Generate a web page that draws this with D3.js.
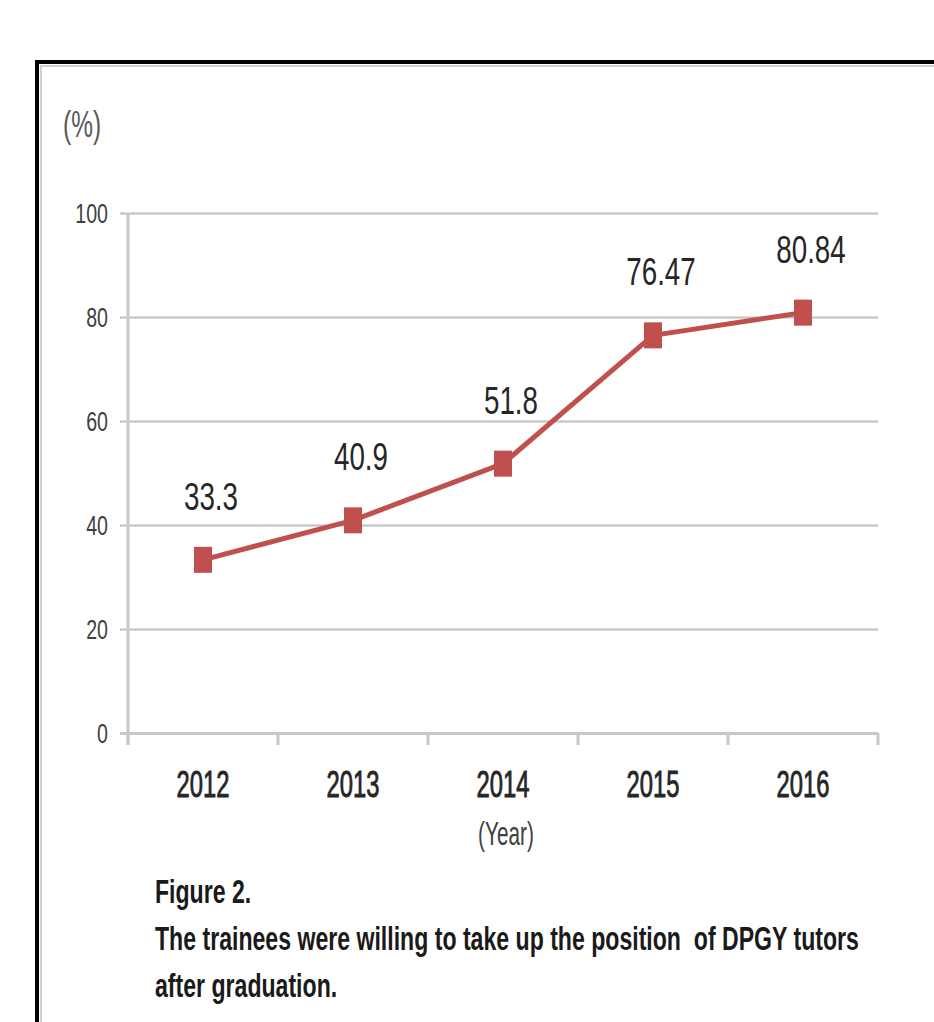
<!DOCTYPE html>
<html>
<head>
<meta charset="utf-8">
<script src="https://cdn.jsdelivr.net/npm/d3@7"></script>
<style>
  body { margin: 0; background: #fff; }
  svg text { font-family: "Liberation Sans", Arial, sans-serif; }
</style>
</head>
<body>
<div id="chart"></div>
<script>
// data
var years = ["2012", "2013", "2014", "2015", "2016"];
var willing = [33.3, 40.9, 51.8, 76.47, 80.84];
var valueLabels = ["33.3", "40.9", "51.8", "76.47", "80.84"];
var yTicks = [0, 20, 40, 60, 80, 100];
var captionLines = ["Figure 2.",
                    "The trainees were willing to take up the position  of DPGY tutors",
                    "after graduation."];

var lineColour = "#C0504D";

var svg = d3.select("#chart")
    .append("svg")
    .attr("width", 934)
    .attr("height", 1022);

// frame round the figure (runs off the right and bottom edges)
svg.append("rect")
    .attr("x", 41).attr("y", 66)
    .attr("width", 1000).attr("height", 1000)
    .style("fill", "none")
    .style("stroke", "#d0d0d0")
    .style("stroke-width", 2);
svg.append("rect")
    .attr("x", 37).attr("y", 62)
    .attr("width", 1000).attr("height", 1000)
    .style("fill", "none")
    .style("stroke", "#000")
    .style("stroke-width", 4);

var x = d3.scaleBand()
    .domain(years)
    .range([128, 878]);

var y = d3.scaleLinear()
    .domain([0, 100])
    .range([733, 213]);

// squeeze text sideways, the figure's lettering is narrow
function squeeze(sel, sx) {
  sel.attr("transform", function() {
    var t = d3.select(this);
    return "translate(" + t.attr("data-x") + "," + t.attr("data-y") + ") scale(" + sx + ",1)";
  });
}

// gridlines + y labels
var yAxis = svg.append("g")
    .attr("transform", "translate(120,0)")
    .call(d3.axisLeft(y).tickValues(yTicks).tickSize(-758).tickPadding(12));

yAxis.select(".domain").remove();
yAxis.selectAll(".tick line")
    .style("stroke", function(d) { return d === 0 ? "#c8c8c8" : "#bfbfbf"; })
    .style("stroke-width", function(d) { return d === 0 ? 3 : 2; });
yAxis.selectAll(".tick text")
    .attr("x", 0)
    .attr("dy", "0.35em")
    .attr("data-x", -12)
    .attr("data-y", 0)
    .style("font-size", "28px")
    .style("fill", "#404040")
    .call(squeeze, 0.7);

// vertical axis line
svg.append("line")
    .attr("x1", x.range()[0]).attr("x2", x.range()[0])
    .attr("y1", y(100)).attr("y2", y(0) + 12)
    .style("stroke", "#c8c8c8")
    .style("stroke-width", 3);

// category tick marks between the years
var bounds = years.map(function(d) { return x(d); }).concat([x.range()[1]]);
svg.append("g")
    .selectAll("line")
    .data(bounds)
    .enter()
    .append("line")
    .attr("x1", function(d) { return d; })
    .attr("x2", function(d) { return d; })
    .attr("y1", y(0))
    .attr("y2", y(0) + 12)
    .style("stroke", "#c8c8c8")
    .style("stroke-width", 3);

// year labels
svg.append("g")
    .selectAll("text")
    .data(years)
    .enter()
    .append("text")
    .text(function(d) { return d; })
    .attr("data-x", function(d) { return x(d) + x.bandwidth() / 2; })
    .attr("data-y", 797)
    .attr("text-anchor", "middle")
    .style("font-size", "36px")
    .style("fill", "#262626")
    .style("stroke", "#262626")
    .style("stroke-width", 0.9)
    .call(squeeze, 0.66);

// axis titles
svg.append("text")
    .text("(Year)")
    .attr("data-x", x("2014") + x.bandwidth() / 2 + 3)
    .attr("data-y", 845)
    .attr("text-anchor", "middle")
    .style("font-size", "33px")
    .style("fill", "#404040")
    .call(squeeze, 0.63);

svg.append("text")
    .text("(%)")
    .attr("data-x", 63)
    .attr("data-y", 137)
    .style("font-size", "36px")
    .style("fill", "#595959")
    .call(squeeze, 0.68);

// the series line
var pts = years.map(function(d, i) { return {year: d, value: willing[i], label: valueLabels[i]}; });

var line = d3.line()
    .x(function(d) { return x(d.year) + x.bandwidth() / 2; })
    .y(function(d) { return y(d.value); });

svg.append("path")
    .datum(pts)
    .attr("d", line)
    .style("fill", "none")
    .style("stroke", lineColour)
    .style("stroke-width", 5)
    .style("stroke-linejoin", "round");

// square markers (stretched taller, like the figure)
svg.append("g")
    .selectAll("rect")
    .data(pts)
    .enter()
    .append("rect")
    .attr("x", function(d) { return x(d.year) + x.bandwidth() / 2 - 9; })
    .attr("y", function(d) { return y(d.value) - 13; })
    .attr("width", 18)
    .attr("height", 26)
    .style("fill", lineColour);

// value labels above points
svg.append("g")
    .selectAll("text")
    .data(pts)
    .enter()
    .append("text")
    .text(function(d) { return d.label; })
    .attr("data-x", function(d) { return x(d.year) + x.bandwidth() / 2 + 8; })
    .attr("data-y", function(d) { return y(d.value) - 50; })
    .attr("text-anchor", "middle")
    .style("font-size", "38px")
    .style("fill", "#262626")
    .call(squeeze, 0.73);

// caption
svg.append("g")
    .selectAll("text")
    .data(captionLines)
    .enter()
    .append("text")
    .text(function(d) { return d; })
    .attr("data-x", 155)
    .attr("data-y", function(d, i) { return 903 + i * 47; })
    .attr("xml:space", "preserve")
    .style("white-space", "pre")
    .style("font-size", "33px")
    .style("font-weight", "bold")
    .style("fill", "#1a1a1a")
    .call(squeeze, 0.70);
</script>
</body>
</html>
